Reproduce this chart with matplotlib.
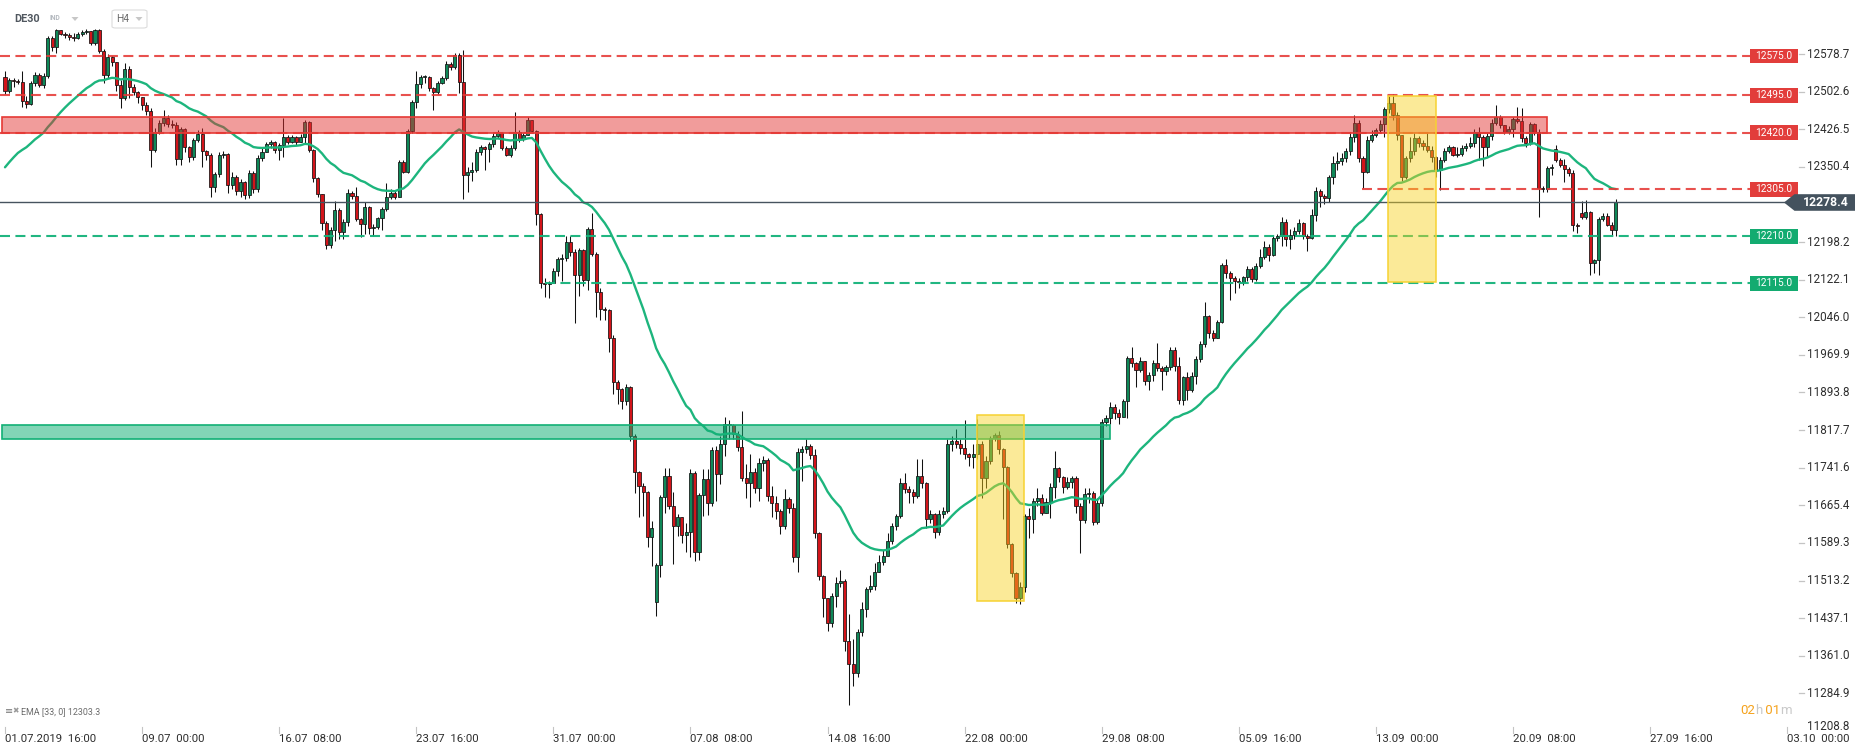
import matplotlib
matplotlib.use("Agg")
import matplotlib.pyplot as plt
from matplotlib.patches import Rectangle, Polygon, FancyBboxPatch
import matplotlib.transforms as mtransforms

plt.rcParams['font.family'] = ['Roboto', 'DejaVu Sans']

# ---------------- data ----------------
closes = [
 12504,12526,12524,12522,12483,12478,12521,12536,12516,12535,
 12611,12593,12627,12620,12617,12614,12612,12620,12624,12626,
 12601,12627,12586,12536,12573,12563,12516,12489,12549,12512,
 12502,12492,12475,12463,12384,12421,12440,12450,12438,12436,
 12367,12428,12390,12371,12404,12418,12382,12374,12310,12337,
 12374,12376,12313,12330,12301,12320,12293,12338,12306,12369,
 12381,12396,12401,12384,12394,12411,12401,12411,12401,12411,
 12441,12384,12327,12296,12236,12192,12222,12263,12218,12238,
 12298,12292,12244,12234,12270,12226,12229,12246,12265,12289,
 12298,12290,12361,12341,12424,12482,12518,12532,12533,12510,
 12503,12520,12530,12559,12552,12577,12523,12334,12341,12344,
 12380,12390,12386,12397,12412,12420,12389,12375,12388,12422,
 12406,12416,12446,12424,12256,12116,12114,12116,12140,12164,
 12166,12199,12179,12132,12182,12122,12224,12175,12098,12062,
 12060,12005,11916,11900,11876,11904,11806,11732,11705,11693,
 11602,11619,11544,11683,11725,11664,11624,11641,11605,11612,
 11731,11570,11686,11718,11670,11778,11729,11790,11831,11828,
 11810,11784,11720,11710,11732,11700,11751,11758,11685,11670,
 11654,11624,11679,11660,11560,11774,11779,11786,11767,11610,
 11523,11477,11428,11482,11509,11512,11390,11345,11326,11408,
 11455,11496,11502,11531,11550,11563,11593,11624,11643,11710,
 11698,11693,11685,11725,11710,11637,11647,11612,11647,11654,
 11790,11796,11790,11782,11769,11764,11770,11789,11720,11756,
 11801,11808,11779,11742,11587,11529,11478,11500,11644,11637,
 11675,11681,11650,11672,11702,11740,11722,11702,11712,11720,
 11665,11636,11688,11690,11632,11671,11835,11842,11865,11852,
 11845,11877,11964,11953,11940,11958,11917,11930,11953,11943,
 11938,11946,11980,11948,11879,11925,11899,11927,11962,11992,
 12048,12014,12005,12037,12151,12135,12125,12120,12117,12128,
 12143,12124,12149,12169,12189,12172,12206,12211,12238,12205,
 12212,12221,12236,12211,12206,12253,12302,12292,12287,12329,
 12359,12363,12369,12382,12410,12440,12368,12341,12405,12414,
 12426,12437,12468,12480,12455,12414,12329,12368,12383,12409,
 12399,12392,12385,12370,12345,12365,12383,12390,12375,12377,
 12389,12392,12399,12422,12410,12390,12412,12439,12451,12436,
 12422,12428,12448,12444,12409,12399,12437,12422,12308,12306,
 12348,12350,12365,12355,12347,12339,12232,12230,12250,12260,
 12156,12161,12245,12252,12233,12223,12278.4]

highs = [
 12545,12530,12530,12529,12545,12494,12525,12542,12540,12540,
 12615,12616,12630,12628,12624,12622,12621,12623,12627,12630,
 12626,12630,12630,12590,12578,12575,12563,12527,12560,12555,
 12518,12504,12492,12482,12470,12430,12446,12465,12455,12446,
 12442,12432,12430,12392,12408,12425,12430,12385,12378,12340,
 12380,12382,12378,12340,12334,12325,12322,12345,12342,12375,
 12388,12400,12405,12403,12398,12450,12415,12416,12412,12418,
 12446,12444,12386,12330,12296,12240,12228,12282,12268,12245,
 12305,12302,12310,12246,12280,12272,12235,12250,12270,12318,
 12306,12302,12365,12365,12428,12486,12545,12536,12536,12534,
 12512,12525,12534,12565,12562,12582,12580,12588,12350,12360,
 12386,12395,12393,12400,12420,12426,12422,12392,12395,12462,
 12425,12420,12452,12446,12426,12258,12125,12120,12145,12168,
 12175,12210,12210,12185,12186,12185,12228,12258,12178,12105,
 12066,12062,12010,11920,11902,11910,11906,11810,11735,11710,
 11695,11634,11549,11686,11740,11740,11693,11648,11640,11630,
 11739,11735,11690,11738,11738,11784,11786,11806,11845,11838,
 11830,11816,11856,11749,11769,11740,11762,11766,11762,11705,
 11685,11658,11698,11683,11670,11782,11786,11800,11790,11780,
 11612,11525,11478,11487,11520,11535,11516,11445,11395,11415,
 11470,11500,11525,11548,11565,11575,11610,11630,11648,11720,
 11730,11705,11698,11760,11760,11712,11655,11650,11655,11662,
 11800,11805,11820,11800,11838,11772,11790,11840,11795,11765,
 11806,11812,11816,11782,11745,11590,11530,11510,11648,11660,
 11680,11700,11688,11680,11710,11776,11742,11725,11722,11725,
 11725,11670,11700,11700,11695,11680,11840,11848,11875,11870,
 11860,11880,11968,11985,11955,11966,11950,11935,11960,11994,
 11948,11950,11985,11985,11965,11928,11935,11935,11968,11998,
 12076,12050,12020,12040,12155,12163,12140,12130,12125,12130,
 12150,12148,12155,12185,12200,12195,12210,12215,12250,12245,
 12225,12228,12245,12238,12215,12265,12310,12305,12295,12335,
 12372,12380,12378,12388,12420,12455,12445,12372,12412,12425,
 12430,12445,12472,12494,12497,12462,12415,12372,12410,12420,
 12412,12405,12420,12392,12372,12370,12388,12395,12392,12390,
 12395,12398,12410,12428,12432,12414,12420,12448,12475,12455,
 12436,12433,12452,12471,12470,12412,12442,12440,12428,12312,
 12352,12356,12394,12368,12366,12350,12345,12236,12282,12284,
 12262,12165,12250,12258,12258,12238,12286]

lows = [
 12497,12500,12512,12518,12472,12470,12476,12514,12512,12510,
 12530,12585,12580,12617,12612,12608,12606,12610,12616,12620,
 12598,12598,12580,12520,12530,12555,12505,12470,12485,12490,
 12495,12480,12465,12455,12350,12380,12418,12434,12432,12430,
 12355,12355,12380,12360,12365,12400,12350,12365,12290,12300,
 12330,12368,12298,12305,12293,12290,12285,12288,12298,12300,
 12362,12380,12388,12378,12365,12370,12396,12398,12395,12400,
 12398,12380,12320,12290,12222,12185,12186,12200,12205,12205,
 12230,12286,12240,12209,12215,12215,12210,12225,12222,12262,
 12285,12286,12290,12338,12338,12420,12470,12510,12520,12505,
 12466,12498,12518,12526,12546,12548,12500,12285,12300,12322,
 12340,12375,12345,12360,12390,12408,12385,12372,12370,12384,
 12400,12403,12414,12420,12233,12105,12088,12085,12115,12130,
 12120,12160,12170,12034,12090,12110,12102,12170,12047,12040,
 12040,11976,11890,11870,11860,11868,11795,11691,11641,11644,
 11582,11543,11442,11520,11650,11657,11546,11604,11590,11570,
 11560,11553,11555,11644,11646,11664,11675,11708,11766,11800,
 11800,11775,11715,11681,11661,11690,11674,11735,11675,11641,
 11637,11607,11618,11650,11550,11531,11715,11772,11760,11600,
 11515,11440,11410,11420,11460,11500,11370,11262,11300,11318,
 11400,11440,11490,11495,11530,11545,11575,11588,11615,11640,
 11690,11670,11670,11680,11700,11620,11630,11600,11605,11640,
 11650,11775,11782,11770,11760,11745,11740,11760,11680,11700,
 11750,11795,11770,11637,11580,11520,11468,11465,11490,11600,
 11610,11665,11645,11650,11640,11680,11712,11690,11698,11700,
 11650,11568,11630,11670,11625,11628,11665,11825,11830,11840,
 11830,11845,11842,11946,11904,11935,11908,11898,11917,11938,
 11898,11930,11940,11938,11870,11868,11878,11895,11910,11955,
 11985,12005,11998,12005,12035,12125,12082,12096,12105,12112,
 12120,12118,12120,12145,12165,12160,12170,12200,12190,12190,
 12185,12205,12215,12205,12180,12205,12240,12270,12275,12280,
 12315,12345,12355,12360,12375,12400,12360,12307,12338,12400,
 12410,12420,12410,12460,12445,12405,12322,12325,12360,12375,
 12390,12385,12380,12360,12330,12304,12360,12378,12372,12370,
 12372,12383,12388,12390,12364,12352,12370,12405,12436,12430,
 12418,12418,12410,12440,12400,12390,12395,12415,12250,12300,
 12300,12335,12360,12350,12320,12332,12220,12217,12245,12245,
 12132,12135,12132,12240,12230,12212,12210]

first_open = 12533.0
gap_opens = {152: 11470.0, 362: 12387.0, 368: 12258.0}

ema_period = 33
ema_seed = 12340.0
ema_label = "EMA [33, 0] 12303.3"

red_levels = [12575.0, 12495.0, 12420.0]
red_level_short = 12305.0
green_levels = [12210.0, 12115.0]
current_price = 12278.4

axis_ticks = [12578.7, 12502.6, 12426.5, 12350.4, 12198.2, 12122.1, 12046.0,
              11969.9, 11893.8, 11817.7, 11741.6, 11665.4, 11589.3, 11513.2,
              11437.1, 11361.0, 11284.9]
bottom_tick = 11208.8

time_labels = ["01.07.2019  16:00", "09.07  00:00", "16.07  08:00", "23.07  16:00",
               "31.07  00:00", "07.08  08:00", "14.08  16:00", "22.08  00:00",
               "29.08  08:00", "05.09  16:00", "13.09  00:00", "20.09  08:00",
               "27.09  16:00", "03.10  00:00"]
bars_per_label = 32

red_zone = (12420.0, 12451.0)
green_zone = (11799.0, 11828.0)
yellow_boxes = [(11472.0, 11848.0), (12117.0, 12493.0)]

# ---------------- geometry ----------------
W, H = 1866, 756
X0, DX = 5.0, 4.284          # pixel of first bar, pixels per bar
Y_REF_PX, Y_REF_P, P_PER_PX = 317.3, 12046.0, 2.0242

def bar_of_px(px):
    return (px - X0) / DX

def price_of_py(py):
    return Y_REF_P - (py - Y_REF_PX) * P_PER_PX

fig = plt.figure(figsize=(W / 100, H / 100), dpi=100)
fig.patch.set_facecolor('white')
ax = fig.add_axes([0, 0, 1, 1])
ax.set_xlim(bar_of_px(0), bar_of_px(W))
ax.set_ylim(price_of_py(H), price_of_py(0))
ax.axis('off')

bt = mtransforms.blended_transform_factory(ax.transAxes, ax.transData)
def fx(px):
    return px / W
def fy(py):
    return 1 - py / H

RED = '#e53935'
GREEN_LINE = '#15b27a'
CANDLE_G = '#0f8858'
CANDLE_R = '#d3141a'

n = len(closes)
opens = [first_open] + closes[:-1]
for k, v in gap_opens.items():
    opens[k] = v

# ---------------- candles ----------------
for i in range(n):
    o, c = opens[i], closes[i]
    hi = max(highs[i], o, c)
    lo = min(lows[i], o, c)
    ax.plot([i, i], [lo, hi], color='#111111', lw=0.75, zorder=2,
            solid_capstyle='butt')
    col = CANDLE_G if c >= o else CANDLE_R
    bottom = min(o, c)
    h = max(abs(c - o), 1.5)
    ax.add_patch(Rectangle((i - 0.36, bottom), 0.72, h, facecolor=col,
                           edgecolor='#111111', lw=0.55, zorder=3))

# ---------------- EMA ----------------
alpha = 2.0 / (ema_period + 1)
ema = []
e = ema_seed
for c in closes:
    e = e + alpha * (c - e)
    ema.append(e)
ax.plot(range(n), ema, color='#1db57d', lw=1.7, zorder=4, solid_capstyle='round')

# ---------------- horizontal levels ----------------
tag_left_bar = bar_of_px(1750)
DASH = (0, (4.8, 2.6))
for lv in red_levels:
    ax.plot([bar_of_px(0), tag_left_bar], [lv, lv], color=RED, lw=1.5,
            ls=DASH, alpha=0.88, zorder=5)
ax.plot([bar_of_px(1362), tag_left_bar], [red_level_short] * 2, color=RED, lw=1.5,
        ls=DASH, alpha=0.88, zorder=5)
ax.plot([bar_of_px(0), tag_left_bar], [green_levels[0]] * 2, color=GREEN_LINE, lw=1.5,
        ls=DASH, alpha=0.95, zorder=5)
ax.plot([bar_of_px(545), tag_left_bar], [green_levels[1]] * 2, color=GREEN_LINE, lw=1.5,
        ls=DASH, alpha=0.95, zorder=5)
ax.plot([bar_of_px(0), bar_of_px(1795)], [current_price] * 2, color='#46535f',
        lw=1.0, zorder=5)

# ---------------- zones ----------------
zl = bar_of_px(2)
zr_red = bar_of_px(1547)
ax.add_patch(Rectangle((zl, red_zone[0]), zr_red - zl, red_zone[1] - red_zone[0],
                       facecolor='#e2302f', alpha=0.48, edgecolor='none', zorder=6))
ax.add_patch(Rectangle((zl, red_zone[0]), zr_red - zl, red_zone[1] - red_zone[0],
                       facecolor='none', edgecolor='#e53935', lw=1.2, zorder=6))
zr_green = bar_of_px(1110)
ax.add_patch(Rectangle((zl, green_zone[0]), zr_green - zl, green_zone[1] - green_zone[0],
                       facecolor='#0fb074', alpha=0.52, edgecolor='none', zorder=6))
ax.add_patch(Rectangle((zl, green_zone[0]), zr_green - zl, green_zone[1] - green_zone[0],
                       facecolor='none', edgecolor='#12b076', lw=1.2, zorder=6))

yb_x = [(bar_of_px(977), bar_of_px(1024)), (bar_of_px(1388), bar_of_px(1436))]
for (xa, xb), (lo, hi) in zip(yb_x, yellow_boxes):
    ax.add_patch(Rectangle((xa, lo), xb - xa, hi - lo, facecolor='#f8d21c',
                           alpha=0.45, edgecolor='none', zorder=7))
    ax.add_patch(Rectangle((xa, lo), xb - xa, hi - lo, facecolor='none',
                           edgecolor='#f6d232', lw=1.1, zorder=7))

# ---------------- right side tags ----------------
tag_h = 14.7 * P_PER_PX
def tag(price, color):
    ax.add_patch(Rectangle((fx(1750), price - tag_h / 2), fx(1797.5) - fx(1750), tag_h,
                           transform=bt, facecolor=color, edgecolor='none', zorder=8,
                           clip_on=False))
    ax.text(fx(1773.7), price, f"{price:.1f}", transform=bt, color='white',
            fontsize=7.3, ha='center', va='center', zorder=9)

for lv in red_levels + [red_level_short]:
    tag(lv, '#e23d3b')
for lv in green_levels:
    tag(lv, '#13ab70')

# axis labels + tick marks
for t in axis_ticks:
    ax.plot([fx(1799), fx(1804)], [t, t], transform=bt, color='#c4c4c4', lw=0.9,
            clip_on=False, zorder=8)
    ax.text(fx(1806.5), t, f"{t:.1f}", transform=bt, color='#2e2e2e', fontsize=8.4,
            ha='left', va='center', zorder=8)
ax.text(fx(1806.5), fy(726), f"{bottom_tick:.1f}", transform=fig.transFigure,
        color='#2e2e2e', fontsize=8.4, ha='left', va='center')

# current price tag
ch = 8.3 * P_PER_PX
cp = current_price
poly = Polygon([(fx(1784), cp), (fx(1794.5), cp + ch), (fx(1855), cp + ch),
                (fx(1855), cp - ch), (fx(1794.5), cp - ch)], closed=True,
               transform=bt, facecolor='#44525e', edgecolor='none', zorder=9,
               clip_on=False)
ax.add_patch(poly)
ax.text(fx(1826), cp, f"{cp:.1f}", transform=bt, color='white', fontsize=8.8,
        fontweight='bold', ha='center', va='center', zorder=10)

# ---------------- time axis ----------------
for k, lab in enumerate(time_labels):
    b = k * bars_per_label
    px = X0 + b * DX
    ax.plot([fx(px), fx(px)], [fy(727), fy(733)], transform=fig.transFigure,
            color='#c4c4c4', lw=0.8)
    ax.text(fx(px), fy(739), lab, transform=fig.transFigure, color='#2e2e2e',
            fontsize=8.2, ha='left', va='center')

# ---------------- header ----------------
fig.text(fx(14), fy(19), "DE30", fontsize=7.8, fontweight='bold', color='#50575f',
         ha='left', va='center')
fig.text(fx(50), fy(18.5), "IND", fontsize=4.8, fontweight='bold', color='#b3b8be',
         ha='left', va='center')
fig.patches.append(Polygon([(fx(71.5), fy(17)), (fx(78.5), fy(17)), (fx(75), fy(21))],
                           closed=True, transform=fig.transFigure, facecolor='#c7c7c7',
                           edgecolor='none'))
fig.patches.append(FancyBboxPatch((fx(112), fy(28)), fx(147) - fx(112), fy(10) - fy(28),
                                  boxstyle='round,pad=0,rounding_size=0.002',
                                  transform=fig.transFigure, facecolor='white',
                                  edgecolor='#dcdcdc', lw=0.8))
fig.text(fx(116), fy(19), "H4", fontsize=7.4, color='#6a6a6a', ha='left', va='center')
fig.patches.append(Polygon([(fx(135.5), fy(17)), (fx(142.5), fy(17)), (fx(139), fy(21))],
                           closed=True, transform=fig.transFigure, facecolor='#c7c7c7',
                           edgecolor='none'))

# ---------------- bottom-left indicator label ----------------
fig.text(fx(5), fy(711), "≡", fontsize=7, color='#7a7a7a', ha='left', va='center',
         family=['DejaVu Sans'])
fig.text(fx(12), fy(711), "✖", fontsize=5.5, color='#9a9a9a', ha='left', va='center',
         family=['DejaVu Sans'])
fig.text(fx(21), fy(712), ema_label, fontsize=6.4, color='#6b6b6b', ha='left',
         va='center')

# ---------------- timer ----------------
t1 = fig.text(fx(1740), fy(711), "02", fontsize=9.5, color='#f5a31e', ha='left',
              va='center')
t2 = ax.annotate("h", xy=(1, 0), xycoords=t1, fontsize=9.5, color='#c9c9c9',
                 va='bottom', ha='left')
t3 = ax.annotate(" 01", xy=(1, 0), xycoords=t2, fontsize=9.5, color='#f5a31e',
                 va='bottom', ha='left')
t4 = ax.annotate("m", xy=(1, 0), xycoords=t3, fontsize=9.5, color='#c9c9c9',
                 va='bottom', ha='left')

fig.savefig('out.png', dpi=100, facecolor='white')
